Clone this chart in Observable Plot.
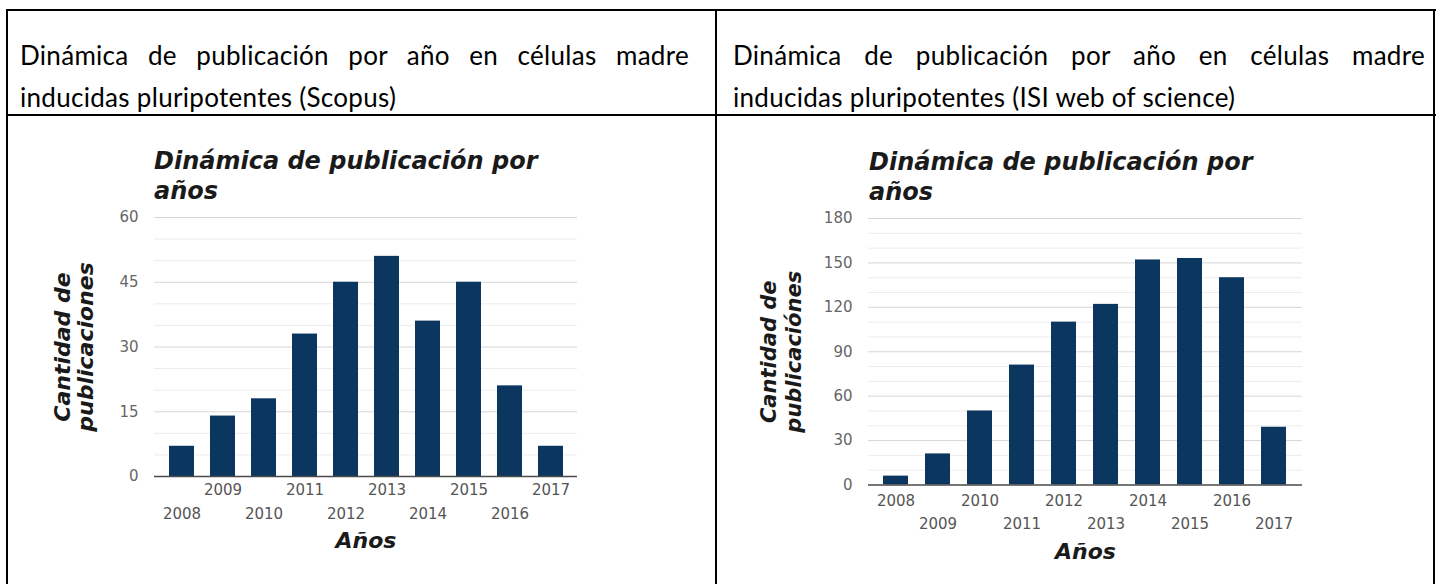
<!DOCTYPE html>
<html>
<head>
<meta charset="utf-8">
<script src="https://cdn.jsdelivr.net/npm/d3@7"></script>
<script src="https://cdn.jsdelivr.net/npm/@observablehq/plot@0.6"></script>
<style>
  html, body { margin: 0; padding: 0; background: #fff; }
  body { width: 1437px; height: 584px; position: relative; overflow: hidden; }
  .ln { position: absolute; background: #000; }
  .hdr { position: absolute; font-family: Lato, "Open Sans", sans-serif; font-size: 26px; letter-spacing: 0.3px; line-height: 42px; color: #000; }
  .hdr .l1 { text-align: justify; text-align-last: justify; }
  .ttl { position: absolute; font-family: "DejaVu Sans", Verdana, sans-serif; font-weight: bold; font-style: italic; font-size: 24px; line-height: 30px; color: #1a1a1a; white-space: nowrap; }
  .chart { position: absolute; }
</style>
</head>
<body>
<div class="ln" style="left:6px;top:9px;width:1430px;height:2px"></div>
<div class="ln" style="left:6px;top:114px;width:1430px;height:2px"></div>
<div class="ln" style="left:6px;top:9px;width:2px;height:580px"></div>
<div class="ln" style="left:715px;top:9px;width:2px;height:580px"></div>
<div class="ln" style="left:1433px;top:9px;width:2px;height:580px"></div>

<div class="hdr" style="left:20px;top:34px;width:669px">
  <div class="l1">Dinámica de publicación por año en células madre</div>
  <div>inducidas pluripotentes (Scopus)</div>
</div>
<div class="hdr" style="left:733px;top:34px;width:692px">
  <div class="l1">Dinámica de publicación por año en células madre</div>
  <div>inducidas pluripotentes (ISI web of science)</div>
</div>

<div class="ttl" style="left:154px;top:146px">Dinámica de publicación por<br>años</div>
<div class="ttl" style="left:869px;top:147px">Dinámica de publicación por<br>años</div>

<div id="c1" class="chart" style="left:40px;top:200px"></div>
<div id="c2" class="chart" style="left:745px;top:200px"></div>

<script>
const years = ["2008","2009","2010","2011","2012","2013","2014","2015","2016","2017"];
const scopusValues = [7, 14, 18, 33, 45, 51, 36, 45, 21, 7];
const isiValues = [6, 21, 50, 81, 110, 122, 152, 153, 140, 39];
const scopusTicks = [0, 15, 30, 45, 60];
const scopusMinor = [5, 10, 20, 25, 35, 40, 50, 55];
const isiTicks = [0, 30, 60, 90, 120, 150, 180];
const isiMinor = [10, 20, 40, 50, 70, 80, 100, 110, 130, 140, 160, 170];
const oddYears = years.filter((d, i) => i % 2 === 1);
const evenYears = years.filter((d, i) => i % 2 === 0);
const xTitle = "Años";
const yTitleScopus = "Cantidad de\npublicaciones";
const yTitleIsi = "Cantidad de\npublicaciónes";

const barColor = "#0b365f";

function makeChart({values, ticks, minor, yMax, width, height, margins, row1, row2, pad1, pad2, yTitle, yTitleDx, xTitleDy, yLineHeight, yFont}) {
  const data = years.map((y, i) => ({year: y, value: values[i]}));
  return Plot.plot({
    width, height,
    marginLeft: margins[0], marginRight: margins[1], marginTop: margins[2], marginBottom: margins[3],
    style: {fontFamily: "DejaVu Sans, Verdana, sans-serif", background: "white", overflow: "visible"},
    x: {type: "band", domain: years, paddingInner: 0.4, paddingOuter: 0.25},
    y: {domain: [0, yMax]},
    marks: [
      Plot.ruleY(minor, {stroke: "#ececec", strokeWidth: 1}),
      Plot.ruleY(ticks.filter(t => t > 0), {stroke: "#d6d6d6", strokeWidth: 1}),
      Plot.barY(data, {x: "year", y: "value", fill: barColor}),
      Plot.ruleY([0], {stroke: "#4a4a4a", strokeWidth: 1.5}),
      Plot.axisY(ticks, {tickSize: 0, tickPadding: 16, fontSize: 15, color: "#666", label: null}),
      Plot.axisX(row1, {tickSize: 0, tickPadding: pad1, fontSize: 15, color: "#555", label: null}),
      Plot.axisX(row2, {tickSize: 0, tickPadding: pad2, fontSize: 15, color: "#555", label: null}),
      Plot.text([xTitle], {text: d => d, frameAnchor: "bottom", dy: xTitleDy, lineAnchor: "middle", fontSize: 22, fontWeight: "bold", fontStyle: "italic", fill: "#1a1a1a"}),
      Plot.text([yTitle], {text: d => d, frameAnchor: "left", dx: yTitleDx, rotate: -90, textAnchor: "middle", lineAnchor: "middle", lineHeight: yLineHeight, fontSize: yFont, fontWeight: "bold", fontStyle: "italic", fill: "#1a1a1a"})
    ]
  });
}

document.getElementById("c1").append(makeChart({
  values: scopusValues, ticks: scopusTicks, minor: scopusMinor, yMax: 60,
  width: 560, height: 370, margins: [114, 23, 17, 94],
  row1: oddYears, row2: evenYears, pad1: 7.5, pad2: 31.5,
  yTitle: yTitleScopus, yTitleDx: -80, xTitleDy: 64, yLineHeight: 1.05, yFont: 22
}));

document.getElementById("c2").append(makeChart({
  values: isiValues, ticks: isiTicks, minor: isiMinor, yMax: 180,
  width: 580, height: 370, margins: [123, 23, 18, 85.5],
  row1: evenYears, row2: oddYears, pad1: 10.5, pad2: 33,
  yTitle: yTitleIsi, yTitleDx: -88, xTitleDy: 67, yLineHeight: 1.2, yFont: 21
}));
</script>
</body>
</html>
